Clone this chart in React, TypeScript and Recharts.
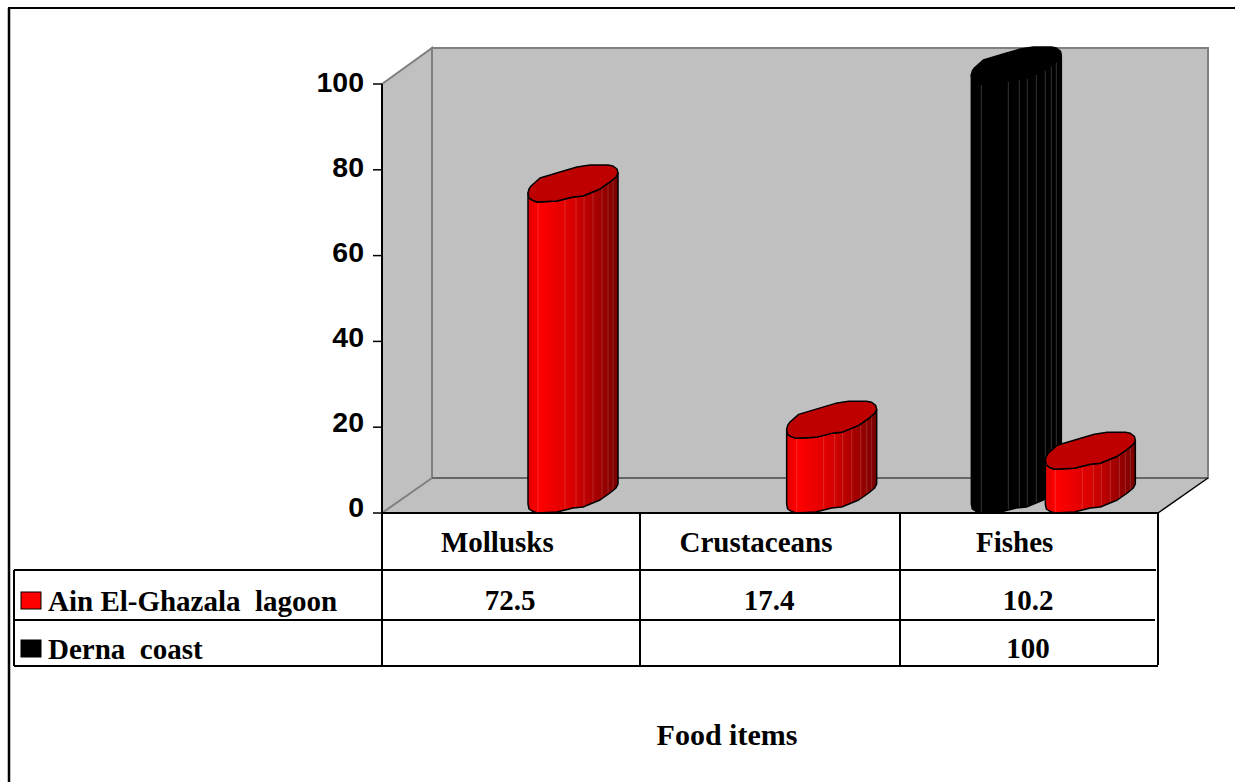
import React from 'react';
import { BarChart, Bar, XAxis, YAxis, Customized } from 'recharts';

const categories = ['Mollusks', 'Crustaceans', 'Fishes'];
const ainElGhazala = [72.5, 17.4, 10.2];
const dernaCoast: (number | null)[] = [null, null, 100];
const yTicks = [0, 20, 40, 60, 80, 100];
const seriesNames = ['Ain El-Ghazala\u00a0 lagoon', 'Derna\u00a0 coast'];

const chartData = categories.map((name, i) => ({
    name,
    ain: ainElGhazala[i],
    derna: dernaCoast[i],
}));

const W = 1235;
const H = 782;
const left = 382;
const top = 84;
const right = 1158;
const bottom = 513;
const depthX = 50;
const depthY = 35;
const colX = [382, 640, 900, 1158];
const serif = '"Liberation Serif", serif';
const sans = '"Liberation Sans", sans-serif';

// outline of the bar top, relative to the front left corner
const capBack = [[0, -9], [1, -13], [3, -16], [12, -24], [32, -30], [49, -35], [62, -37], [80, -37], [85, -36], [89, -33], [90, -29]];
const capFront = [[0, -9], [1, -4], [4, -2], [9, 0], [29, -1], [45, -5], [55, -6], [72, -13], [82, -20], [88, -25], [90, -29]];
const facets = [10, 37, 48, 56, 65, 74, 80, 85];

const frontY = (dx: number) => {
    for (let i = 1; i < capFront.length; i++) {
        const [x0, y0] = capFront[i - 1];
        const [x1, y1] = capFront[i];
        if (dx <= x1) return y0 + ((dx - x0) / (x1 - x0)) * (y1 - y0);
    }
    return -29;
};

const barShift = 11;

const Cylinder = (props: any) => {
    const { x, y, height, dark } = props;
    if (!height) return null;
    const px = x + barShift;
    const base = y + height;
    const pts = (list: number[][], yy: number) => list.map(([a, b]) => `${px + a},${yy + b}`).join(' ');
    const back = [...capFront].reverse();
    return (
        <g>
            <polygon
                points={`${pts(capFront, y)} ${pts(back, base)}`}
                fill={dark ? '#000' : 'url(#redSide)'}
                stroke="#000"
                strokeWidth={1.5}
                strokeLinejoin="round"
            />
            {facets.map((f) => (
                <line
                    key={f}
                    x1={px + f}
                    x2={px + f}
                    y1={y + frontY(f) + 1}
                    y2={base + frontY(f) - 1}
                    stroke={dark ? '#333333' : '#ffffff'}
                    strokeOpacity={dark ? 1 : 0.16}
                    strokeWidth={1}
                />
            ))}
            <polygon
                points={`${pts(capBack, y)} ${pts(back, y)}`}
                fill={dark ? '#000' : '#bf0000'}
                stroke="#000"
                strokeWidth={1.5}
                strokeLinejoin="round"
            />
        </g>
    );
};

const YTick = (props: any) => {
    const { x, y, payload } = props;
    // the labels sit a little further above their ticks toward the bottom of the axis
    const lift = 2 + (100 - payload.value) * 0.04;
    return (
        <text
            x={x}
            y={y - lift}
            dy="0.355em"
            textAnchor="end"
            fontFamily={sans}
            fontWeight={700}
            fontSize={28.5}
            fill="#000"
        >
            {payload.value}
        </text>
    );
};

const Walls = () => (
    <g>
        <polygon
            points={`${left},${bottom} ${left + depthX},${bottom - depthY} ${right + depthX},${bottom - depthY} ${right},${bottom}`}
            fill="#c0c0c0"
        />
        <polygon
            points={`${left + depthX},${top - depthY - 1} ${right + depthX},${top - depthY - 1} ${right + depthX},${bottom - depthY} ${left + depthX},${bottom - depthY}`}
            fill="#c0c0c0"
            stroke="#808080"
            strokeWidth={2}
        />
        <polygon
            points={`${left},${top} ${left + depthX},${top - depthY - 1} ${left + depthX},${bottom - depthY} ${left},${bottom}`}
            fill="#c0c0c0"
            stroke="#808080"
            strokeWidth={2}
        />
        <line x1={left + depthX} x2={right + depthX} y1={bottom - depthY} y2={bottom - depthY} stroke="#666" strokeWidth={2} />
        <line x1={right} x2={right + depthX} y1={bottom} y2={bottom - depthY} stroke="#000" strokeWidth={1.5} />
        <defs>
            <linearGradient id="redSide" x1="0" x2="1" y1="0" y2="0">
                <stop offset="0" stopColor="#e00000" />
                <stop offset="0.12" stopColor="#ff0000" />
                <stop offset="0.5" stopColor="#d80000" />
                <stop offset="1" stopColor="#780000" />
            </linearGradient>
        </defs>
    </g>
);

const DataTable = () => {
    const cell = { fontFamily: serif, fontWeight: 700, fontSize: 29, fill: '#000' };
    const colMid = (i: number) => (colX[i] + colX[i + 1]) / 2;
    return (
        <g>
            <line x1={left} x2={right} y1={bottom} y2={bottom} stroke="#000" strokeWidth={2} />
            <line x1={14} x2={1156} y1={570} y2={570} stroke="#000" strokeWidth={2} />
            <line x1={14} x2={1155} y1={620} y2={620} stroke="#000" strokeWidth={2} />
            <line x1={14} x2={right} y1={666} y2={666} stroke="#000" strokeWidth={2} />
            <line x1={14} x2={14} y1={570} y2={666} stroke="#000" strokeWidth={2} />
            {colX.map((x) => (
                <line key={x} x1={x} x2={x} y1={bottom} y2={665} stroke="#000" strokeWidth={2} />
            ))}
            <rect x={21} y={592} width={20} height={17} fill="#ff0000" stroke="#000" strokeWidth={1} />
            <rect x={21} y={640} width={20} height={17} fill="#000" stroke="#000" strokeWidth={1} />
            <text x={48} y={611} {...cell}>{seriesNames[0]}</text>
            <text x={48} y={659} {...cell}>{seriesNames[1]}</text>
            {ainElGhazala.map((v, i) => (
                <text key={i} x={colMid(i) - 1} y={610} textAnchor="middle" {...cell}>{v}</text>
            ))}
            {dernaCoast.map((v, i) => (v === null ? null : (
                <text key={i} x={colMid(i) - 1} y={658} textAnchor="middle" {...cell}>{v}</text>
            )))}
            <text x={727} y={745} textAnchor="middle" {...cell} fontSize={30}>Food items</text>
            <line x1={8} x2={W} y1={8} y2={8} stroke="#000" strokeWidth={2} />
            <line x1={9} x2={9} y1={8} y2={H} stroke="#000" strokeWidth={2.5} />
        </g>
    );
};

export default function App() {
    return (
        <div style={{ position: 'absolute', left: 0, top: 0, width: W, height: H, background: '#fff', overflow: 'hidden' }}>
            <BarChart
                width={W}
                height={H}
                data={chartData}
                margin={{ left: 0, top, right: W - right, bottom: 0 }}
                barSize={62}
                barGap={12}
            >
                <Customized component={Walls} />
                <XAxis
                    dataKey="name"
                    height={H - bottom}
                    axisLine={false}
                    tickLine={false}
                    interval={0}
                    tickMargin={12}
                    tick={{ fontFamily: serif, fontWeight: 700, fontSize: 29, fill: '#000', dx: -14 }}
                />
                <YAxis
                    width={left}
                    domain={[0, 100]}
                    ticks={yTicks}
                    tickSize={9}
                    tickMargin={9}
                    axisLine={{ stroke: '#000', strokeWidth: 2 }}
                    tickLine={{ stroke: '#000', strokeWidth: 1.5 }}
                    tick={<YTick />}
                />
                <Bar dataKey="derna" isAnimationActive={false} shape={(p: any) => <Cylinder {...p} dark />} />
                <Bar dataKey="ain" isAnimationActive={false} shape={(p: any) => <Cylinder {...p} />} />
                <Customized component={DataTable} />
            </BarChart>
        </div>
    );
}
